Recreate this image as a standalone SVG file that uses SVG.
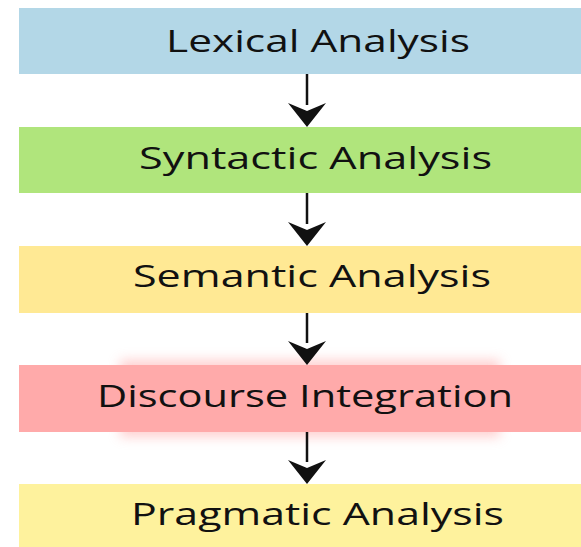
<svg xmlns="http://www.w3.org/2000/svg" width="581" height="547" viewBox="0 0 581 547">
<style>
.box{stroke:none}
.lbl{font-family:"Open Sans","Liberation Sans",sans-serif;font-size:31px;fill:#111}
.conn line{stroke:#111;stroke-width:2.5}
.conn path{fill:#111}
</style>
<defs>
<filter id="glow" x="-20%" y="-50%" width="140%" height="200%"><feGaussianBlur stdDeviation="6"/></filter>
</defs>
<rect width="581" height="547" fill="#fff"/>
<g id="lexical"><rect class="box" x="19" y="8" width="562" height="66" fill="#b3d7e7"/><text class="lbl" x="166" y="52" textLength="304" lengthAdjust="spacingAndGlyphs">Lexical Analysis</text></g>
<g id="syntactic"><rect class="box" x="19" y="127" width="562" height="66" fill="#b0e57c"/><text class="lbl" x="139" y="169" textLength="353" lengthAdjust="spacingAndGlyphs">Syntactic Analysis</text></g>
<g id="semantic"><rect class="box" x="19" y="246" width="562" height="67" fill="#ffe994"/><text class="lbl" x="133" y="287" textLength="358" lengthAdjust="spacingAndGlyphs">Semantic Analysis</text></g>
<g id="discourse"><rect x="120" y="360" width="380" height="77" fill="#ffb0b0" opacity="0.6" filter="url(#glow)"/><rect class="box" x="19" y="365" width="562" height="67" fill="#ffaaaa"/><text class="lbl" x="97" y="407" textLength="416" lengthAdjust="spacingAndGlyphs">Discourse Integration</text></g>
<g id="pragmatic"><rect class="box" x="19" y="484" width="562" height="63" fill="#fef29d"/><text class="lbl" x="131" y="525" textLength="373" lengthAdjust="spacingAndGlyphs">Pragmatic Analysis</text></g>
<g class="conn" id="connectors">
<line x1="307" y1="74" x2="307" y2="105"/><path d="M288,103 L307,127 L326,103 L307,111 Z"/>
<line x1="307" y1="193" x2="307" y2="224"/><path d="M288,222 L307,246 L326,222 L307,230 Z"/>
<line x1="307" y1="313" x2="307" y2="343"/><path d="M288,341 L307,365 L326,341 L307,349 Z"/>
<line x1="307" y1="432" x2="307" y2="462"/><path d="M288,460 L307,484 L326,460 L307,468 Z"/>
</g>
</svg>
